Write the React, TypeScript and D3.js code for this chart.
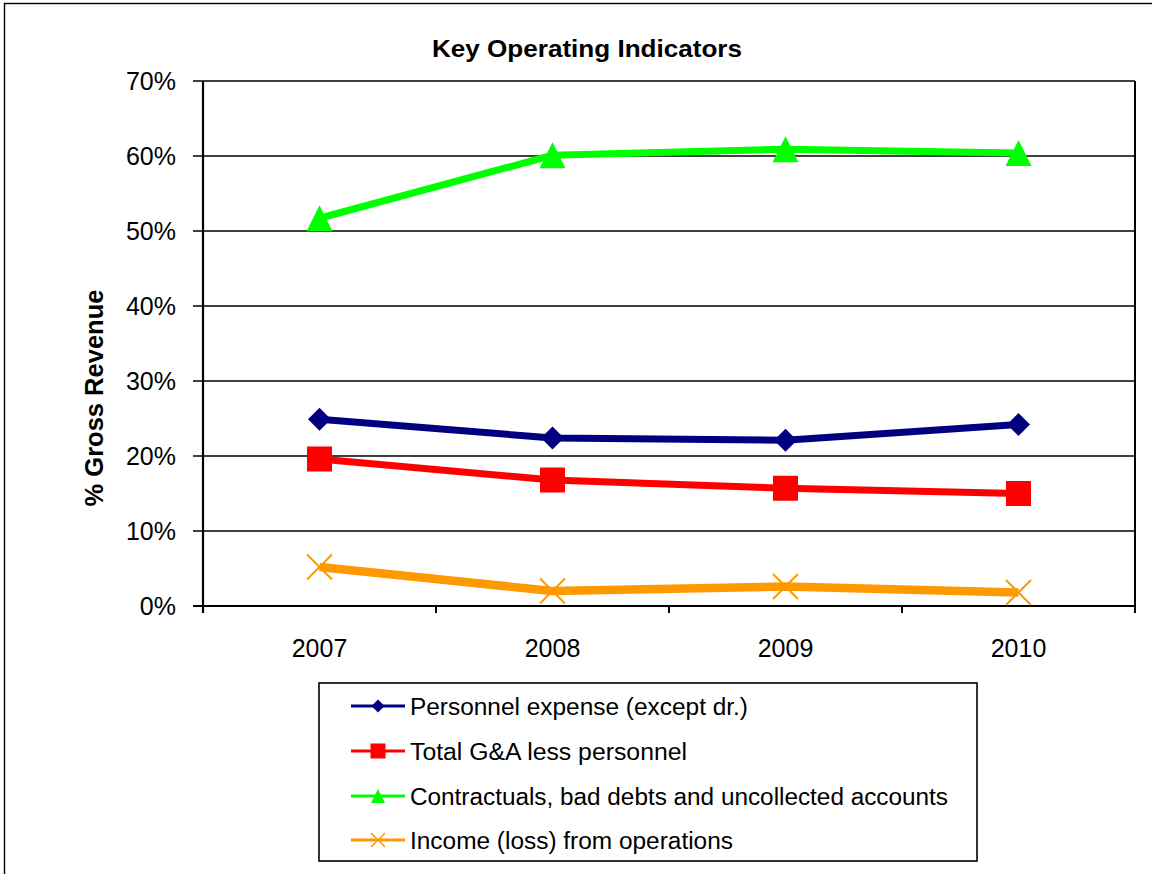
import React from "react";
import * as d3 from "d3";

// Key operating indicators, share of gross revenue by year
const years = ["2007", "2008", "2009", "2010"];
const personnel = [0.249, 0.224, 0.221, 0.242];
const gaLessPersonnel = [0.196, 0.168, 0.157, 0.150];
const contractuals = [0.517, 0.601, 0.609, 0.604];
const incomeOps = [0.052, 0.020, 0.026, 0.018];
const yTicks = [0, 0.1, 0.2, 0.3, 0.4, 0.5, 0.6, 0.7];

type Marker = "diamond" | "square" | "triangle" | "x";
interface Series {
  name: string;
  values: number[];
  color: string;
  marker: Marker;
  width: number;
}

const series: Series[] = [
  { name: "Personnel expense (except dr.)", values: personnel, color: "#000080", marker: "diamond", width: 7 },
  { name: "Total G&A less personnel", values: gaLessPersonnel, color: "#FF0000", marker: "square", width: 7 },
  { name: "Contractuals, bad debts and uncollected accounts", values: contractuals, color: "#00FF00", marker: "triangle", width: 7 },
  { name: "Income (loss) from operations", values: incomeOps, color: "#FF9900", marker: "x", width: 8.5 },
];

const legendTextWidths = [338, 277, 538, 323];

const W = 1152;
const H = 874;
const FONT = "'Liberation Sans', Arial, sans-serif";

const plot = { left: 203, right: 1135, top: 81, bottom: 606 };

function MarkerShape({ kind, x, y, size, color }: { kind: Marker; x: number; y: number; size: number; color: string }) {
  const h = size / 2;
  if (kind === "diamond") {
    return <path d={`M${x},${y - h}L${x + h},${y}L${x},${y + h}L${x - h},${y}Z`} fill={color} />;
  }
  if (kind === "square") {
    return <rect x={x - h} y={y - h} width={size} height={size} fill={color} />;
  }
  if (kind === "triangle") {
    return <path d={`M${x},${y - h}L${x + h},${y + h}L${x - h},${y + h}Z`} fill={color} />;
  }
  return (
    <path
      d={`M${x - h},${y - h}L${x + h},${y + h}M${x - h},${y + h}L${x + h},${y - h}`}
      stroke={color}
      strokeWidth={size > 16 ? 2 : 1.5}
      fill="none"
    />
  );
}

const markerSize: Record<Marker, number> = { diamond: 23, square: 25, triangle: 26, x: 25 };
const legendMarkerSize: Record<Marker, number> = { diamond: 13, square: 15, triangle: 14, x: 14 };

export default function App() {
  const x = d3.scaleBand<string>().domain(years).range([plot.left, plot.right]).paddingInner(0).paddingOuter(0);
  const y = d3.scaleLinear().domain([0, 0.7]).range([plot.bottom, plot.top]);
  const cx = (yr: string) => (x(yr) as number) + x.bandwidth() / 2;
  const line = d3
    .line<number>()
    .x((_, i) => cx(years[i]))
    .y((v) => y(v));
  const boundaries = years.map((yr) => x(yr) as number).concat([plot.right]);

  const legend = { x: 319, y: 683, w: 658, h: 178 };
  const rowY = [706, 751, 796, 840];

  return (
    <div style={{ position: "absolute", left: 0, top: 0 }}>
      <svg width={W} height={H} style={{ display: "block", background: "#fff" }}>
        <rect x={4.5} y={3.5} width={W + 20} height={H + 20} fill="#fff" stroke="#000" strokeWidth={1.4} />

        {/* title */}
        <text
          x={432}
          y={57}
          fontFamily={FONT}
          fontWeight="bold"
          fontSize={24.5}
          textLength={310}
          lengthAdjust="spacingAndGlyphs"
          fill="#000"
        >
          Key Operating  Indicators
        </text>

        {/* gridlines and y ticks */}
        {yTicks.map((t) => (
          <g key={t}>
            <line x1={plot.left - 10} x2={plot.right} y1={y(t)} y2={y(t)} stroke="#000" strokeWidth={t === 0 ? 2 : 1.6} />
            <text
              x={176}
              y={y(t) + 9}
              textAnchor="end"
              fontFamily={FONT}
              fontSize={25}
              fill="#000"
            >
              {d3.format(".0%")(t)}
            </text>
          </g>
        ))}

        {/* axes */}
        <line x1={plot.left} x2={plot.left} y1={plot.top} y2={plot.bottom + 7} stroke="#000" strokeWidth={2.2} />
        <line x1={plot.right} x2={plot.right} y1={plot.top} y2={plot.bottom} stroke="#000" strokeWidth={2} />
        {boundaries.map((b, i) => (
          <line key={i} x1={b} x2={b} y1={plot.bottom} y2={plot.bottom + 7} stroke="#000" strokeWidth={2} />
        ))}
        {years.map((yr) => (
          <text key={yr} x={cx(yr)} y={657} textAnchor="middle" fontFamily={FONT} fontSize={25} fill="#000">
            {yr}
          </text>
        ))}

        {/* y axis title */}
        <text
          transform={`translate(103,398) rotate(-90)`}
          textAnchor="middle"
          fontFamily={FONT}
          fontWeight="bold"
          fontSize={25.5}
          fill="#000"
        >
          % Gross Revenue
        </text>

        {/* series */}
        {series.map((s) => (
          <g key={s.name}>
            <path d={line(s.values) || ""} fill="none" stroke={s.color} strokeWidth={s.width} strokeLinejoin="round" />
            {s.values.map((v, i) => (
              <MarkerShape key={i} kind={s.marker} x={cx(years[i])} y={y(v)} size={markerSize[s.marker]} color={s.color} />
            ))}
          </g>
        ))}

        {/* legend */}
        <rect x={legend.x} y={legend.y} width={legend.w} height={legend.h} fill="#fff" stroke="#000" strokeWidth={1.6} />
        {series.map((s, i) => (
          <g key={s.name}>
            <line x1={351} x2={405} y1={rowY[i]} y2={rowY[i]} stroke={s.color} strokeWidth={3} />
            <MarkerShape kind={s.marker} x={378} y={rowY[i]} size={legendMarkerSize[s.marker]} color={s.color} />
            <text
              x={410}
              y={rowY[i] + 8.5}
              fontFamily={FONT}
              fontSize={23.5}
              textLength={legendTextWidths[i]}
              lengthAdjust="spacingAndGlyphs"
              fill="#000"
            >
              {s.name}
            </text>
          </g>
        ))}
      </svg>
    </div>
  );
}
